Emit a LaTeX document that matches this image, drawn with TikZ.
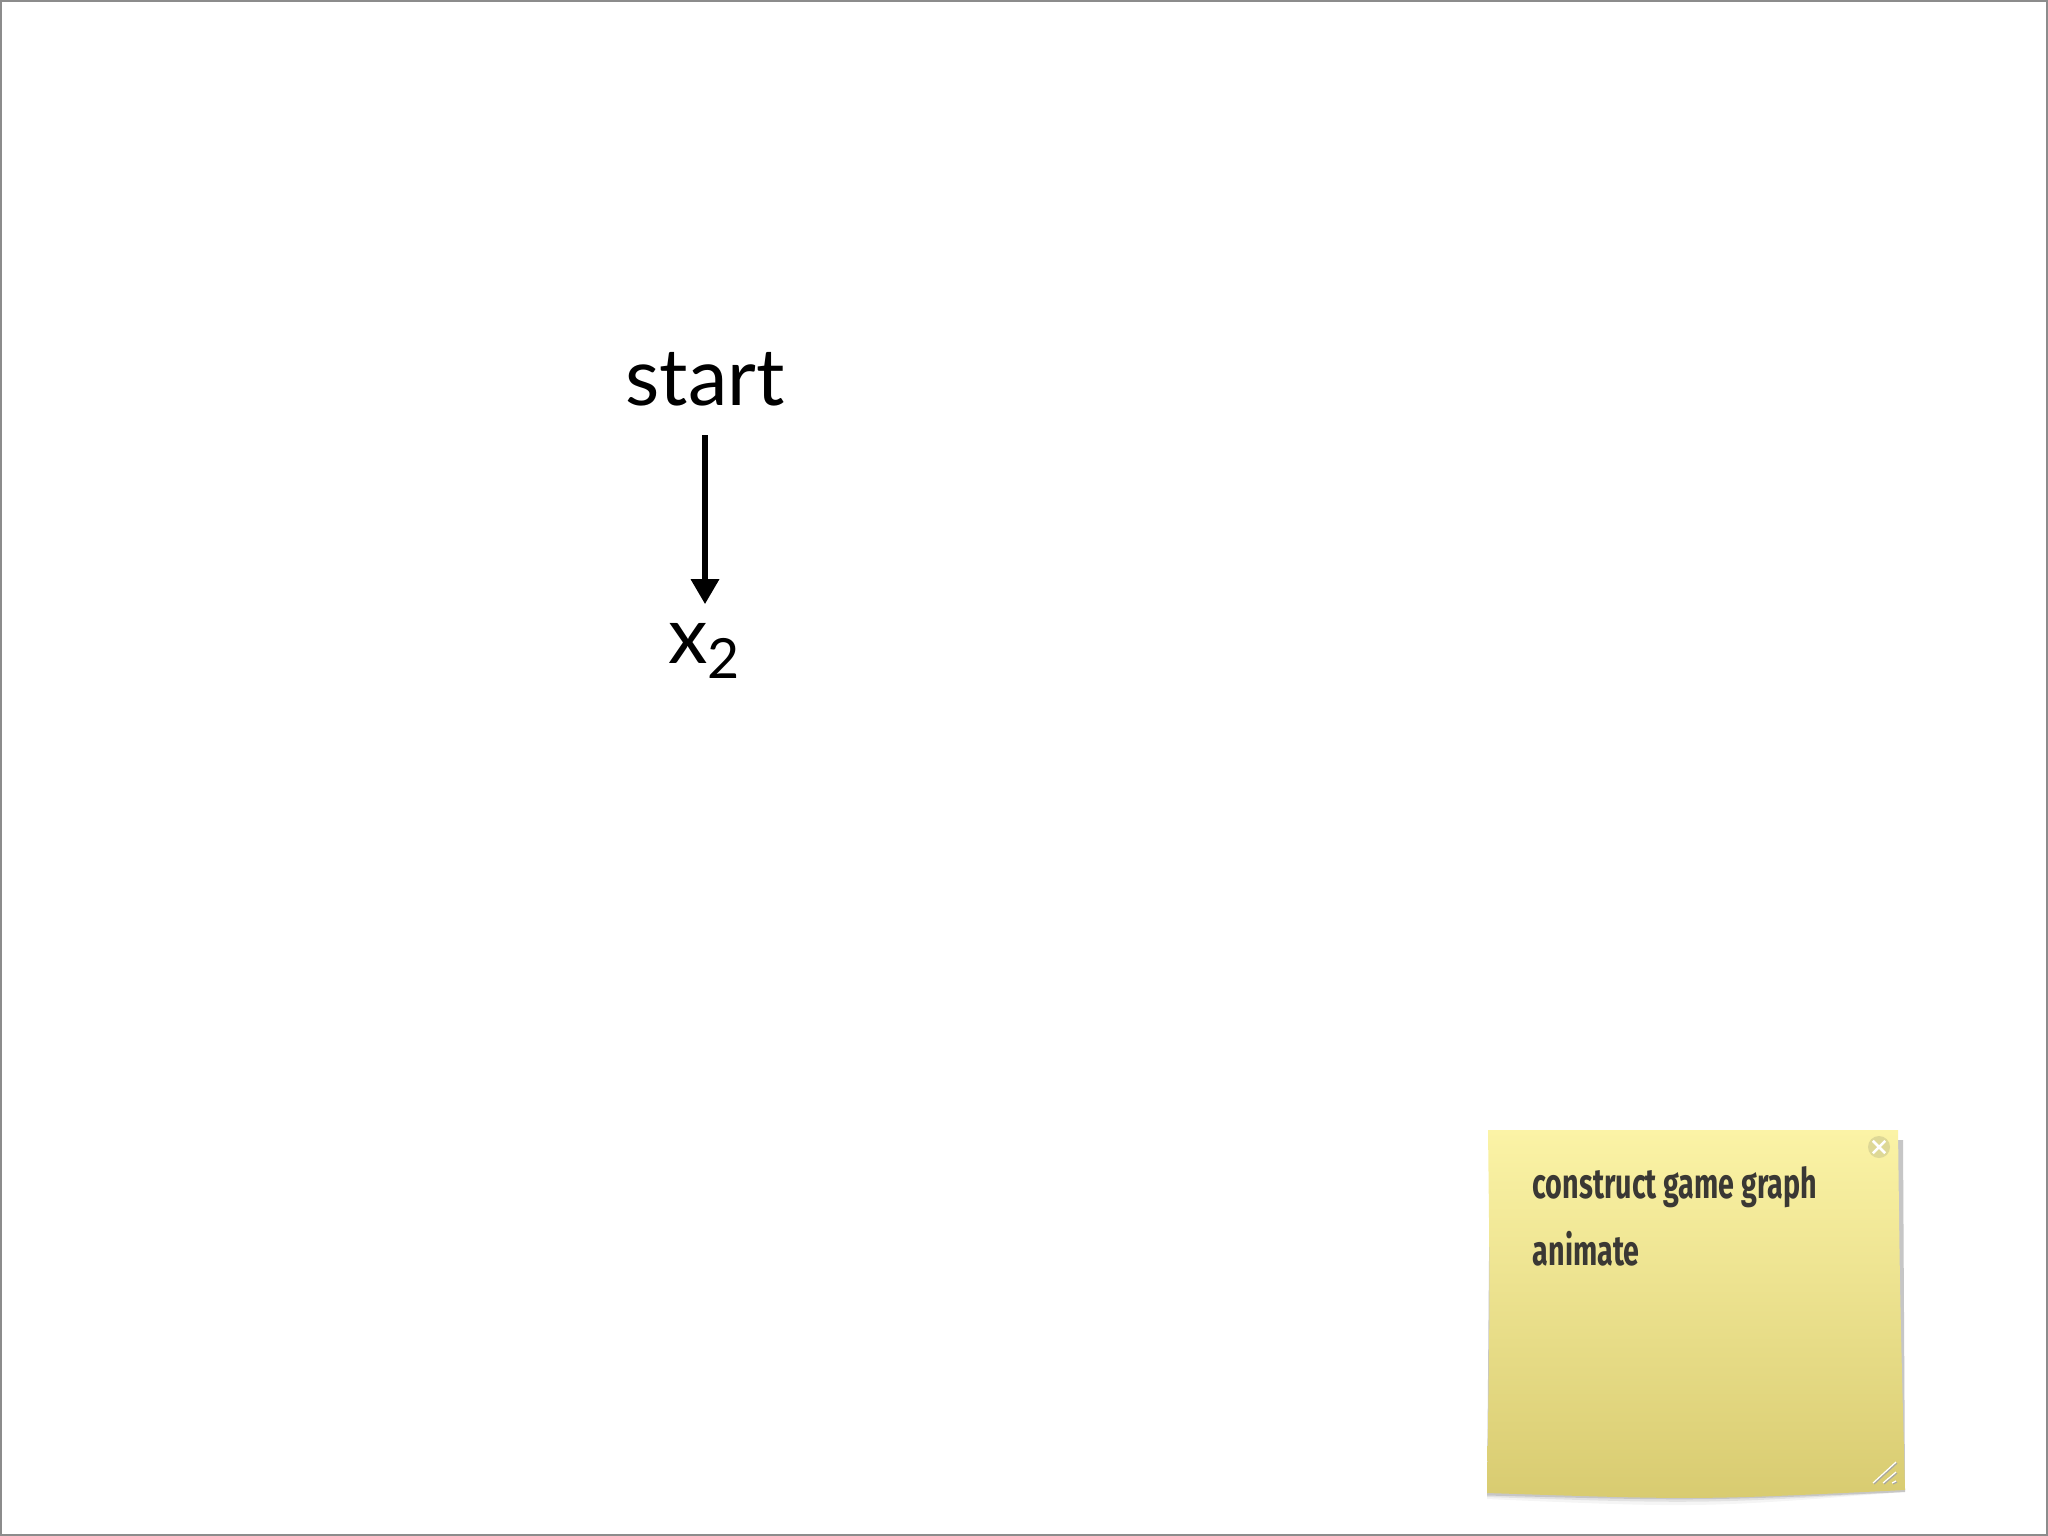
\documentclass[tikz,border=0pt]{standalone}
\usepackage{fontspec}
\setmainfont{Lato}
\newfontfamily\notefont[FakeStretch=0.68]{Fira Sans}
\usetikzlibrary{positioning}
\usetikzlibrary{arrows.meta}
\definecolor{notetop}{RGB}{251,243,166}
\definecolor{notebot}{RGB}{216,203,112}
\definecolor{noteink}{RGB}{58,56,52}
\definecolor{notebtn}{RGB}{222,216,150}

\begin{document}
\begin{tikzpicture}[
  x=0.01cm, y=-0.01cm,
  label/.style={inner sep=0pt, font=\fontsize{22.5}{26}\selectfont},
  arrow/.style={-{Stealth[length=0.25cm, width=0.27cm, inset=0pt]}, line width=0.06cm},
  todo/.style={inner sep=0pt, anchor=base west, text=noteink, font=\notefont\bfseries\fontsize{12}{14}\selectfont},
  frame/.style={draw=black!45, line width=0.02cm}
]
\useasboundingbox (0,0) rectangle (2048,1536);
\draw[frame] (1,1) rectangle (2047,1535);

\node[label, anchor=base] (start) at (705,405) {start};
\node[label, anchor=base] (x2) at (705,663) {x\textsubscript{2}};
\draw[arrow, shorten <=0.29cm, shorten >=0.18cm] (start.south) -- (start.south |- x2.north);

% sticky note
\foreach \o/\a in {3/0.12, 6/0.08, 10/0.04} {
  \fill[black, opacity=\a] (1490,1140) -- (1903,1140) -- (1905,1492)
    .. controls (1700,1498+\o) .. (1487,1494+\o/2) -- cycle;
}
\shade[top color=notetop, bottom color=notebot] (1488,1130) -- (1898,1130)
  .. controls (1900,1300) .. (1905,1490) .. controls (1700,1500) .. (1487,1493)
  .. controls (1490,1300) .. (1488,1130) -- cycle;

\node[circle, fill=notebtn, minimum size=0.22cm, inner sep=0pt] (close) at (1879,1147) {};
\draw[white, line width=0.025cm, shorten <=0.03cm, shorten >=0.03cm] (close.north west) -- (close.south east);
\draw[white, line width=0.025cm, shorten <=0.03cm, shorten >=0.03cm] (close.north east) -- (close.south west);

\foreach \s in {0,10,19} {
  \draw[black!35, line width=0.012cm] (1874+\s,1484) -- (1897,1463+\s);
  \draw[white, line width=0.012cm] (1873+\s,1483) -- (1896,1462+\s);
}

\node[todo] (todo1) at (1532,1198) {construct game graph};
\node[todo] (todo2) at (1532,1265) {animate};

\end{tikzpicture}
\end{document}
